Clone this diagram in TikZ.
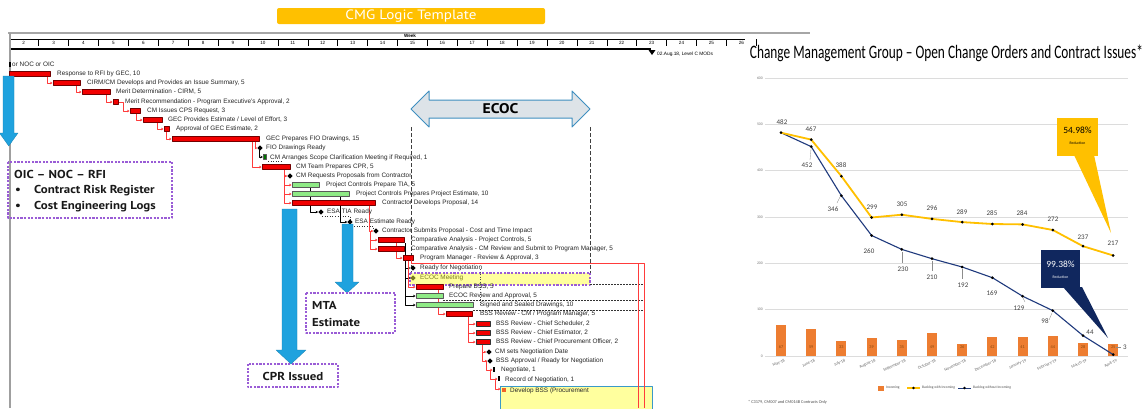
\documentclass[tikz,border=0pt]{standalone}
\usepackage{fontspec}
\usepackage{graphicx}
\setmainfont{Liberation Sans}
\newfontfamily\ptsans{PT Sans}
\newfontfamily\ptwide[FakeStretch=1.12]{PT Sans}
\newfontfamily\carl{Carlito}
\usetikzlibrary{arrows.meta}

\definecolor{cmgorange}{HTML}{FFC000}
\definecolor{arrblue}{HTML}{1FA2DE}
\definecolor{boxpurple}{HTML}{9A5CD6}
\definecolor{gred}{HTML}{F20000}
\definecolor{gredline}{HTML}{FF3B3B}
\definecolor{ggreen}{HTML}{8FEA86}
\definecolor{ecocfill}{HTML}{DDE3E8}
\definecolor{ecocline}{HTML}{3F8FC0}
\definecolor{yband}{HTML}{FFFF9E}
\definecolor{olivetxt}{HTML}{7A7A20}
\definecolor{incoming}{HTML}{ED7D31}
\definecolor{incotxt}{HTML}{8A4A10}
\definecolor{navy}{HTML}{1F3A7D}
\definecolor{calnavy}{HTML}{10275E}
\definecolor{gridgray}{HTML}{DCDCDC}
\definecolor{lblgray}{HTML}{404040}
\definecolor{dssline}{HTML}{3A9AC8}

\newcommand{\gbar}[4]{\path[#1] (#2,#4-2.6) rectangle (#3,#4+2.4);}
\newcommand{\mstone}[3][black]{\fill[#1] (#2-2.6,#3) -- (#2,#3-2.6) -- (#2+2.6,#3) -- (#2,#3+2.6) -- cycle;}
\newcommand{\dep}[6][rconn]{\draw[#1] (#2,#3) -- (#4,#3) -- (#4,#5) -- (#6,#5);}
\newcommand{\gtext}[4]{\node[gtxt] (#1) at (#2,#3) {#4};}
\newcommand{\bluedn}[7]{\path[bluearrow] (#1,#3) -- (#2,#3) -- (#2,#4) -- (#6,#4) -- ({(#5+#6)/2},#7) -- (#5,#4) -- (#1,#4) -- cycle;}

\begin{document}
\begin{tikzpicture}[x=1pt,y=-1pt,line join=round,
  gtxt/.style={anchor=west,inner sep=0pt,font=\fontsize{6.4}{7}\selectfont,text=black!85},
  redbar/.style={fill=gred,draw=red!45!black,line width=0.45pt},
  greenbar/.style={fill=ggreen,draw=black!65,line width=0.45pt},
  rconn/.style={draw=gredline,line width=0.5pt,-{Stealth[length=2.4pt,width=2.6pt]}},
  bconn/.style={draw=black,line width=0.5pt,-{Stealth[length=2.4pt,width=2.6pt]}},
  pbox/.style={draw=boxpurple,line width=1.1pt,dash pattern=on 2.2pt off 1.4pt},
  bluearrow/.style={fill=arrblue,draw=arrblue!80!black,line width=0.3pt},
  ecocdash/.style={draw=black!75,line width=1pt,dash pattern=on 3.5pt off 2.5pt},
  thindash/.style={draw=black!80,line width=0.5pt,dash pattern=on 2pt off 1pt},
  wk/.style={inner sep=0pt,font=\fontsize{4.6}{5}\selectfont\bfseries},
  boldlbl/.style={inner sep=0pt,font=\ptwide\bfseries\fontsize{11.5}{13}\selectfont,text=black!90},
  ax/.style={inner sep=0pt,font=\carl\fontsize{3.8}{4}\selectfont,text=black!55},
  dl/.style={inner sep=0pt,font=\carl\fontsize{7}{8}\selectfont,text=lblgray},
  bl/.style={inner sep=0pt,font=\carl\fontsize{4.3}{5}\selectfont,text=incotxt},
  mo/.style={inner sep=0pt,font=\carl\fontsize{4.2}{5}\selectfont,text=black!60,rotate=25,anchor=north east},
  lg/.style={inner sep=0pt,anchor=west,font=\carl\fontsize{3.6}{4}\selectfont,text=black!70},
  leader/.style={draw=black!45,line width=0.3pt}]

\useasboundingbox (0,0) rectangle (1145,408);
\fill[white] (0,0) rectangle (1145,408);

% ---------- banner ----------
\fill[cmgorange,rounded corners=2pt] (277,8) rectangle (545,24);
\node[text=white,inner sep=0pt,font=\ptwide\fontsize{13.5}{15}\selectfont] (banner) at (411,16.3) {CMG Logic Template};

% ---------- Gantt header ----------
\draw[gray!70,line width=2.2pt] (8,33) -- (810,33);
\node[wk] (week) at (410,36.2) {Week};
\draw[black,line width=0.4pt] (9,39.3) -- (745,39.3);
\foreach \k in {0,...,25} \draw[line width=0.5pt] (8.8+29.9*\k,39.3) -- (8.8+29.9*\k,46);
\foreach \k in {2,...,26} \node[wk,font=\fontsize{4.6}{5}\selectfont] (w\k) at (23.7+29.9*\k-59.8,42.8) {\k};
\draw[black,line width=1.8pt] (9,48.8) -- (651,48.8);
\fill (648.5,50) -- (655.5,50) -- (652,55) -- cycle;
\node[inner sep=0pt,anchor=west,font=\fontsize{4.8}{5}\selectfont] (mods) at (657,54) {02.Aug.18, Level C MODs};
\draw[gray!75,line width=1.6pt] (10,33) -- (10,408);

% ---------- ECOC arrow and dashed frame ----------
\path[fill=ecocfill,draw=ecocline,line width=1pt] (411,109) -- (429,91) -- (429,100) -- (572,100) -- (572,91) -- (590,109) -- (572,127) -- (572,118) -- (429,118) -- (429,127) -- cycle;
\node[inner sep=0pt,font=\ptwide\bfseries\fontsize{14}{15}\selectfont] (ecoc) at (500.5,109) {ECOC};
\draw[ecocdash] (411,127) -- (411,273);
\draw[ecocdash] (590,127) -- (590,273);

% ECOC meeting band
\fill[yband] (410,273) rectangle (590,285);
\draw[pbox] (410,273) rectangle (590,285);

% dashed / dotted guide lines
\draw[thindash] (590,284.5) -- (644,284.5);
\draw[thindash] (443,300.5) -- (644,300.5);
\draw[thindash] (473,310) -- (644,310);
\draw[black!70,line width=0.5pt,dotted] (480,269) -- (480,305);
\draw[black!80,line width=0.5pt,dotted] (268,161.5) -- (281,161.5) -- (281,165);
\draw[black!80,line width=0.6pt,dotted] (322,216) -- (350,216) -- (350,221);
\draw[black!80,line width=0.6pt,dotted] (354,226) -- (373,226) -- (373,230);

% ---------- connectors ----------
\dep{47}{74}{47}{83}{52.5}
\dep{76}{83}{76}{92}{81.5}
\dep{106}{92}{106}{102}{112.5}
\dep{118}{102}{123}{111}{129.5}
\dep{136}{111}{136}{120}{142.5}
\dep{157}{120}{157}{129}{163.5}
\dep{166}{129}{166}{139}{171.5}
\dep{255}{139}{255}{148}{257.2}
\dep{252}{139}{252}{167}{261.5}
\dep[bconn]{259.5}{150}{259.5}{157}{262.8}
\dep{284}{167}{284}{176}{287.2}
\dep{284}{176}{284}{185}{291.5}
\dep{284}{176}{284}{194}{291.5}
\dep{284}{176}{284}{203}{291.5}
\dep[bconn]{310}{185}{310}{212}{318}
\dep[bconn]{340}{194}{340}{222}{347.2}
\dep{369}{203}{369}{231}{373.2}
\dep{370}{231}{370}{240}{377.5}
\dep{370}{231}{370}{249}{377.5}
\dep{396}{240}{396}{258}{402.5}
\draw[black,line width=0.5pt] (405,243) -- (405,258);
\dep[bconn]{405}{258}{405}{268}{410.2}
\dep[bconn]{405}{258}{405}{278}{410.2}
\dep{408}{258}{408}{287}{415.5}
\dep[bconn]{405}{258}{405}{296}{415.5}
\dep[bconn]{405}{258}{405}{305}{415.5}
\dep{438}{287}{438}{314}{445.5}
\dep{468}{314}{468}{324}{475.5}
\dep{468}{314}{468}{333}{475.5}
\dep{468}{314}{468}{342}{475.5}
\dep{482}{342}{482}{352}{486.2}
\dep{482}{342}{482}{361}{487.2}
\dep{486}{361}{486}{370}{492.5}
\dep{490}{370}{490}{379}{497.5}
\dep{495}{379}{495}{389}{500.5}

% ---------- bars ----------
\fill (9,61.5) rectangle (11,66.5);
\gbar{redbar}{9}{50}{74}
\gbar{redbar}{53}{80}{83}
\gbar{redbar}{82}{110}{92}
\gbar{redbar}{113}{118}{102}
\gbar{redbar}{130}{140}{111}
\gbar{redbar}{143}{162}{120}
\gbar{redbar}{164}{169}{129}
\gbar{redbar}{172}{259}{139}
\gbar{greenbar,fill=green!45!black}{263}{266}{157}
\gbar{redbar}{262}{290}{167}
\gbar{greenbar}{292}{319}{185}
\gbar{greenbar}{292}{349}{194}
\gbar{redbar}{292}{375}{203}
\gbar{redbar}{378}{404}{240}
\gbar{redbar}{378}{404}{249}
\gbar{redbar}{403}{413}{258}
\gbar{redbar}{416}{443}{287}
\gbar{greenbar}{416}{443}{296}
\gbar{greenbar}{416}{473}{305}
\gbar{redbar}{446}{472}{314}
\gbar{redbar,draw=black!80,line width=0.8pt}{476}{490}{324}
\gbar{redbar,draw=black!80,line width=0.8pt}{476}{490}{333}
\gbar{redbar,draw=black!80,line width=0.8pt}{476}{490}{342}
\gbar{fill=black}{493.3}{495}{370}
\gbar{fill=black}{498.3}{500}{379}

% ---------- milestones ----------
\mstone{260}{148}
\mstone{290}{176}
\mstone{321}{212}
\mstone{350}{222}
\mstone{376}{231}
\mstone{413}{268}
\mstone[olivetxt]{413}{278}
\mstone{489}{352}
\mstone{490}{361}

% ---------- last row ----------
\path[fill=yband,draw=dssline,line width=0.8pt] (500,386) rectangle (652,412);
\fill[incoming!80!red] (501.5,387.5) rectangle (506,391.5);
\begin{scope}
\clip (500,386) rectangle (588,408);
\gtext{t35}{510}{390.5}{Develop BSS (Procurement Staff Summary)}
\end{scope}
\draw[gredline,line width=0.6pt] (411,260) -- (411,263) -- (644,263) -- (644,408);
\draw[gredline,line width=0.6pt] (638,263) -- (638,408);

% ---------- task texts ----------
\gtext{t0}{12}{64}{or NOC or OIC}
\gtext{t1}{57}{74}{Response to RFI by GEC, 10}
\gtext{t2}{87}{83}{CIRM/CM Develops and Provides an Issue Summary, 5}
\gtext{t3}{116}{92}{Merit Determination - CIRM, 5}
\gtext{t4}{125}{102}{Merit Recommendation - Program Executive's Approval, 2}
\gtext{t5}{147}{111}{CM Issues CPS Request, 3}
\gtext{t6}{168}{120}{GEC Provides Estimate / Level of Effort, 3}
\gtext{t7}{176}{129}{Approval of GEC Estimate, 2}
\gtext{t8}{266}{139}{GEC Prepares FIO Drawings, 15}
\gtext{t9}{266}{148}{FIO Drawings Ready}
\gtext{t10}{270}{157.5}{CM Arranges Scope Clarification Meeting if Required, 1}
\gtext{t11}{296}{167}{CM Team Prepares CPR, 5}
\gtext{t12}{296}{176}{CM Requests Proposals from Contractor}
\gtext{t13}{326}{185}{Project Controls Prepare TIA, 5}
\gtext{t14}{356}{194}{Project Controls Prepares Project Estimate, 10}
\gtext{t15}{382}{203}{Contractor Develops Proposal, 14}
\gtext{t16}{327}{212}{ESA TIA Ready}
\gtext{t17}{355}{222}{ESA Estimate Ready}
\gtext{t18}{382}{231}{Contractor Submits Proposal - Cost and Time Impact}
\gtext{t19}{411}{240}{Comparative Analysis - Project Controls, 5}
\gtext{t20}{411}{249}{Comparative Analysis - CM Review and Submit to Program Manager, 5}
\gtext{t21}{420}{258}{Program Manager - Review \& Approval, 3}
\gtext{t22}{420}{268}{Ready for Negotiation}
\node[gtxt,text=olivetxt] (t23) at (420,278) {ECOC Meeting};
\gtext{t24}{449}{287}{Prepare BSS, 5}
\gtext{t25}{449}{296}{ECOC Review and Approval, 5}
\gtext{t26}{480}{305}{Signed and Sealed Drawings, 10}
\gtext{t27}{480}{314}{BSS Review - CM / Program Manager, 5}
\gtext{t28}{496}{324}{BSS Review - Chief Scheduler, 2}
\gtext{t29}{496}{333}{BSS Review - Chief Estimator, 2}
\gtext{t30}{496}{342}{BSS Review - Chief Procurement Officer, 2}
\gtext{t31}{495}{352}{CM sets Negotiation Date}
\gtext{t32}{496}{361}{BSS Approval / Ready for Negotiation}
\gtext{t33}{501}{370}{Negotiate, 1}
\gtext{t34}{505}{379.5}{Record of Negotiation, 1}

% ---------- blue arrows ----------
\bluedn{3}{14}{76}{133}{-0.5}{18}{146}
\bluedn{282}{297}{209}{350}{276}{306}{364}
\bluedn{342}{353}{224}{282}{335}{359}{293}

% ---------- purple boxes ----------
\draw[pbox] (8,162) rectangle (172,218);
\node[boldlbl,anchor=west] (oic) at (14,174.5) {OIC – NOC – RFI};
\node[boldlbl] (bu1) at (18,191) {\textbullet};
\node[boldlbl,anchor=west] (crr) at (34,191) {Contract Risk Register};
\node[boldlbl] (bu2) at (18,206.5) {\textbullet};
\node[boldlbl,anchor=west] (cel) at (34,206.5) {Cost Engineering Logs};

\draw[pbox] (306,293) rectangle (395,333);
\node[boldlbl,anchor=west] (mta) at (312,305) {MTA};
\node[boldlbl,anchor=west] (est) at (312,322) {Estimate};

\draw[pbox] (248,364) rectangle (338,387);
\node[boldlbl] (cpr) at (293,376) {CPR Issued};

% ================= right chart =================
\node[anchor=base,inner sep=0pt] (title) at (946.5,58) {\resizebox{393pt}{13.5pt}{\carl Change Management Group – Open Change Orders and Contract Issues*}};

\foreach \yv in {0,100,200,300,400,500,600} {
  \draw[gridgray,line width=0.5pt] (765,356-0.4633*\yv) -- (1128,356-0.4633*\yv);
  \node[ax,anchor=east] (y\yv) at (763,356-0.4633*\yv) {\yv};
}

\foreach \v [count=\i from 0] in {67,59,33,39,35,49,26,42,41,44,28,25} {
  \fill[incoming] (776+30.2*\i,356) rectangle (786+30.2*\i,356-0.4633*\v);
  \node[bl] (b\i) at (781+30.2*\i,347) {\v};
}

\foreach \m [count=\i from 0] in {May-18,June-18,July-18,August-18,September-18,October-18,November-18,December-18,January-19,February-19,March-19,April-19}
  \node[mo] (m\i) at (784+30.2*\i,358.5) {\m};

\draw[navy,line width=1.1pt] (781,132.7) -- (811.2,146.6) -- (841.4,195.7) -- (871.6,235.5) -- (901.8,249.4) -- (932,258.7) -- (962.2,267.0) -- (992.4,277.7) -- (1022.6,296.2) -- (1052.8,310.6) -- (1083,335.6) -- (1113.2,354.6);
\draw[cmgorange,line width=1.8pt] (781,132.7) -- (811.2,139.6) -- (841.4,176.2) -- (871.6,217.5) -- (901.8,214.7) -- (932,218.9) -- (962.2,222.1) -- (992.4,224.0) -- (1022.6,224.4) -- (1052.8,230.0) -- (1083,246.2) -- (1113.2,255.5);
\foreach \p in {(781,132.7),(811.2,146.6),(841.4,195.7),(871.6,235.5),(901.8,249.4),(932,258.7),(962.2,267.0),(992.4,277.7),(1022.6,296.2),(1052.8,310.6),(1083,335.6),(1113.2,354.6),(811.2,139.6),(841.4,176.2),(871.6,217.5),(901.8,214.7),(932,218.9),(962.2,222.1),(992.4,224.0),(1022.6,224.4),(1052.8,230.0),(1083,246.2),(1113.2,255.5)}
  \fill[black] \p circle (1.5);

% callouts
\fill[cmgorange] (1074,155) -- (1094,155) -- (1111,233) -- cycle;
\fill[cmgorange] (1057,118) rectangle (1098,156);
\node[inner sep=0pt,font=\carl\fontsize{9.5}{10}\selectfont] (p1) at (1077.5,130.5) {54.98\%};
\node[inner sep=0pt,font=\carl\fontsize{3.8}{4}\selectfont] (r1) at (1077.5,143) {Reduction};
\fill[calnavy] (1063,287) -- (1082,287) -- (1108,338) -- cycle;
\fill[calnavy] (1041,250) rectangle (1080,288);
\node[inner sep=0pt,text=white,font=\carl\fontsize{9.5}{10}\selectfont] (p2) at (1060.5,264) {99.38\%};
\node[inner sep=0pt,text=white,font=\carl\fontsize{3.8}{4}\selectfont] (r2) at (1060.5,277) {Reduction};

% data labels
\foreach \t/\x/\y in {482/782/122,467/811/129,388/841/165,299/872/207,305/902/204,296/932/208,289/962/212,285/992/213,284/1022/213,272/1053/219,237/1083/237,217/1113/243,452/807/165,346/833/209,260/869/251,230/903/269,210/932/277,192/963/285,169/992/293,129/1019/308,98/1045/321,44/1090/332,3/1125/347}
  \node[dl] (d\t) at (\x,\y) {\t};
\draw[leader] (810,160) -- (811,149);
\draw[leader] (837,203) -- (840,197);
\draw[leader] (902,252) -- (902,263);
\draw[leader] (932,261) -- (932,271);
\draw[leader] (962,269) -- (962,279);
\draw[leader] (1025,302) -- (1023,298);
\draw[leader] (1049,320) -- (1052,313);
\draw[leader] (1116,347) -- (1121,347);

% legend
\fill[incoming] (878,385.5) rectangle (883.5,390.5);
\node[lg] (lg1) at (886,388) {Incoming};
\draw[cmgorange,line width=1.2pt] (907,388) -- (920,388);
\fill (913.5,388) circle (1.3);
\node[lg] (lg2) at (922,388) {Backlog with Incoming};
\draw[navy,line width=1pt] (958,388) -- (971,388);
\fill (964.5,388) circle (1.3);
\node[lg] (lg3) at (973,388) {Backlog without Incoming};
\node[lg,font=\carl\fontsize{4.3}{5}\selectfont] (foot) at (748,402) {* C3179, CM007 and CM014B Contracts Only};

\end{tikzpicture}
\end{document}
